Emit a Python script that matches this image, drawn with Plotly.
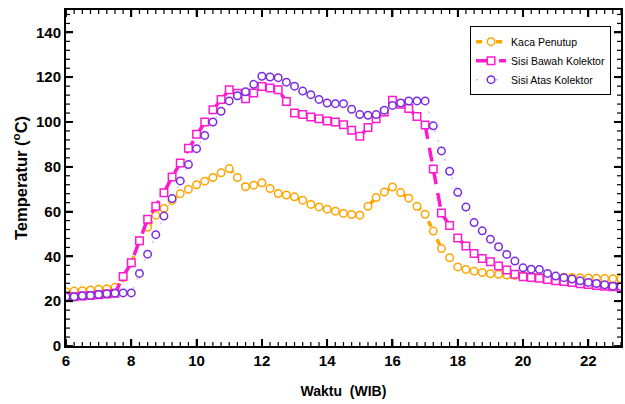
import plotly.graph_objects as go

waktu = [6.00, 6.25, 6.50, 6.75, 7.00, 7.25, 7.50, 7.75, 8.00, 8.25, 8.50, 8.75,
         9.00, 9.25, 9.50, 9.75, 10.00, 10.25, 10.50, 10.75, 11.00, 11.25, 11.50, 11.75,
         12.00, 12.25, 12.50, 12.75, 13.00, 13.25, 13.50, 13.75, 14.00, 14.25, 14.50, 14.75,
         15.00, 15.25, 15.50, 15.75, 16.00, 16.25, 16.50, 16.75, 17.00, 17.25, 17.50, 17.75,
         18.00, 18.25, 18.50, 18.75, 19.00, 19.25, 19.50, 19.75, 20.00, 20.25, 20.50, 20.75,
         21.00, 21.25, 21.50, 21.75, 22.00, 22.25, 22.50, 22.75, 23.00]

kaca_penutup = [24.2, 24.5, 24.7, 25.0, 25.3, 25.6, 26.2, 30.5, 37.0, 47.0, 53.0, 58.4,
                61.4, 65.0, 68.0, 70.0, 72.0, 73.6, 75.2, 77.3, 79.2, 75.2, 71.1, 71.8,
                72.9, 70.3, 68.1, 67.4, 66.6, 65.1, 63.2, 62.1, 61.1, 60.2, 59.2, 58.7,
                58.4, 62.4, 66.3, 68.7, 71.0, 68.5, 66.0, 62.4, 58.8, 51.3, 43.5, 39.4,
                35.3, 34.2, 33.4, 32.8, 32.2, 32.0, 31.7, 31.5, 31.3, 31.2, 31.0, 30.9,
                30.8, 30.7, 30.6, 30.5, 30.4, 30.3, 30.1, 30.0, 30.0]

sisi_bawah = [22.0, 22.0, 22.3, 22.6, 22.9, 23.2, 23.5, 31.0, 37.2, 47.0, 56.6, 62.4,
              68.4, 75.5, 81.7, 88.3, 94.5, 100.0, 105.5, 110.0, 114.4, 112.8, 110.4, 113.0,
              115.9, 115.2, 114.4, 109.2, 104.0, 103.4, 102.2, 101.5, 100.4, 100.0, 98.8, 96.3,
              93.6, 97.5, 101.5, 104.5, 109.7, 107.9, 106.0, 102.5, 98.7, 79.0, 59.4, 53.8,
              48.2, 44.6, 41.3, 39.1, 37.6, 35.7, 33.9, 32.0, 30.9, 30.6, 30.3, 29.7,
              29.1, 28.8, 28.4, 27.8, 27.5, 27.0, 26.7, 26.4, 26.0]

sisi_atas = [22.0, 22.0, 22.4, 22.6, 23.0, 23.3, 23.6, 23.7, 23.7, 32.4, 41.0, 49.7,
             58.0, 65.8, 73.7, 81.0, 88.1, 94.0, 100.0, 104.8, 109.4, 111.7, 113.5, 116.8,
             120.4, 120.1, 119.8, 117.8, 116.0, 113.8, 112.2, 110.1, 108.5, 108.2, 108.2, 105.7,
             103.3, 103.0, 103.3, 105.2, 107.4, 108.5, 109.4, 109.4, 109.4, 98.3, 87.1, 78.0,
             68.6, 62.0, 55.1, 51.4, 47.7, 44.3, 40.9, 37.9, 34.9, 34.3, 34.2, 32.4,
             31.2, 30.5, 29.9, 29.1, 28.4, 27.9, 27.3, 26.7, 26.5]

x_range = [6, 23]
y_range = [0, 150]
x_tick_step, x_minor_step = 2, 0.25
y_tick_step, y_minor_step = 20, 4

ORANGE = "#FFA500"
MAGENTA = "#FF1ACD"
PURPLE = "#7A2BE0"

fig = go.Figure()
fig.add_trace(go.Scatter(
    x=waktu, y=kaca_penutup, name="Kaca Penutup", mode="lines+markers",
    line=dict(color=ORANGE, width=3.5, dash="6px,14px"),
    marker=dict(symbol="circle", size=7.5, color="white",
                line=dict(color=ORANGE, width=1.5)),
))
fig.add_trace(go.Scatter(
    x=waktu, y=sisi_bawah, name="Sisi Bawah Kolektor", mode="lines+markers",
    line=dict(color=MAGENTA, width=3.5, dash="14px,9px"),
    marker=dict(symbol="square", size=7.5, color="white",
                line=dict(color=MAGENTA, width=1.5)),
))
fig.add_trace(go.Scatter(
    x=waktu, y=sisi_atas, name="Sisi Atas Kolektor", mode="lines+markers",
    line=dict(color="#CDBDF3", width=1.5, dash="2px,8px"),
    marker=dict(symbol="circle", size=7.5, color="white",
                line=dict(color=PURPLE, width=1.5)),
))

# tick marks on all four sides (pixel-sized shapes anchored at tick values)
def tick_values(lo, hi, step):
    vals, v = [], lo
    while v <= hi + 1e-9:
        vals.append(round(v, 4))
        v += step
    return vals

shapes = []
for step, length, width in [(x_minor_step, 4, 1.2), (x_tick_step, 7, 1.8)]:
    for t in tick_values(x_range[0], x_range[1], step):
        for anchor, sign in [(0, 1), (1, -1)]:
            shapes.append(dict(type="line", xref="x", yref="paper", x0=t, x1=t,
                               ysizemode="pixel", yanchor=anchor, y0=0, y1=sign * length,
                               line=dict(color="black", width=width), layer="above"))
for step, length, width in [(y_minor_step, 4, 1.2), (y_tick_step, 7, 1.8)]:
    for t in tick_values(y_range[0], y_range[1], step):
        for anchor, sign in [(0, 1), (1, -1)]:
            shapes.append(dict(type="line", xref="paper", yref="y", y0=t, y1=t,
                               xsizemode="pixel", xanchor=anchor, x0=0, x1=sign * length,
                               line=dict(color="black", width=width), layer="above"))

tickfont = dict(family="Liberation Sans, Arial", size=15, color="black", weight="bold")

fig.update_layout(
    width=625, height=404,
    margin=dict(l=66, r=4, t=10, b=58, autoexpand=False),
    paper_bgcolor="white", plot_bgcolor="white",
    showlegend=True,
    shapes=shapes,
    legend=dict(
        x=0.728, y=0.952, xanchor="left", yanchor="top",
        bgcolor="white", bordercolor="black", borderwidth=1,
        font=dict(family="Liberation Sans, Arial", size=10.5, color="black"),
        itemwidth=30, tracegroupgap=0,
    ),
    xaxis=dict(
        range=x_range, dtick=x_tick_step,
        ticks="inside", ticklen=7, tickwidth=2, tickcolor="#000000",
        showline=True, linewidth=2, linecolor="black", mirror="ticks",
        gridcolor="rgba(0,0,0,0)", zerolinecolor="rgba(0,0,0,0)", tickfont=tickfont,
        title=dict(text="Waktu  (WIB)",
                   font=dict(family="Liberation Sans, Arial", size=14, color="black", weight="bold"),
                   standoff=18),
    ),
    yaxis=dict(
        range=y_range, dtick=y_tick_step,
        ticks="inside", ticklen=7, tickwidth=2, tickcolor="#000000",
        showline=True, linewidth=2, linecolor="black", mirror="ticks",
        gridcolor="rgba(0,0,0,0)", zerolinecolor="rgba(0,0,0,0)", tickfont=tickfont,
        title=dict(text="Temperatur (<sup>o</sup>C)",
                   font=dict(family="Liberation Sans, Arial", size=16.5, color="black", weight="bold"),
                   standoff=4),
    ),
)

fig.write_html("out.html", config={"displayModeBar": False},
               post_script="document.body.style.margin='0';document.body.style.padding='0';")
